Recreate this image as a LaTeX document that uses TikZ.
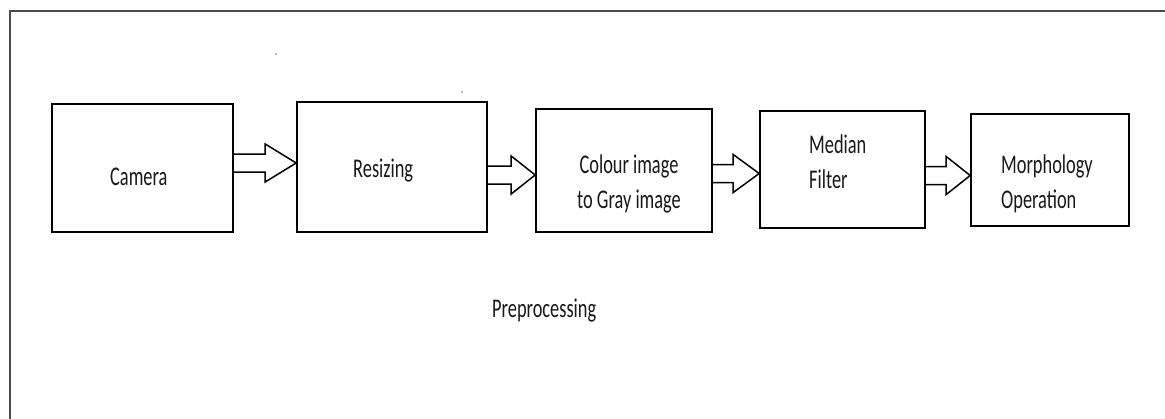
\documentclass[tikz,border=0pt]{standalone}
\usepackage{fontspec}
\setmainfont{Carlito}[FakeStretch=0.68]
\usetikzlibrary{calc}
\tikzset{
  box/.style={draw=black, line width=1.6pt, rectangle, inner sep=0pt},
  lbl/.style={anchor=base west, inner sep=0pt, align=left, text=black!90,
    font=\fontsize{27}{35}\selectfont},
  arr/.style={draw=black, line width=1.5pt, line join=miter},
  frame/.style={draw=black!70, line width=2pt}
}
\newcommand{\harrow}[4]{%
  \draw[arr] let \p1=(#1.east), \p2=(#2.west) in
    (\x1,{#3+9}) -- ({\x2-#4},{#3+9}) -- ({\x2-#4},{#3+19}) -- (\x2,#3)
    -- ({\x2-#4},{#3-19}) -- ({\x2-#4},{#3-9}) -- (\x1,{#3-9});}
\begin{document}
\begin{tikzpicture}[x=1pt,y=1pt]
\useasboundingbox (0,0) rectangle (1165,-418);
\fill[white] (0,0) rectangle (1165,-418);
% outer frame (right and bottom sides lie outside the picture)
\coordinate (ftl) at (10,-11);
\coordinate (ftr) at (1170,-11);
\coordinate (fbl) at (10,-425);
\draw[frame] (fbl) -- (ftl) -- (ftr);
% boxes
\node[box, minimum width=181pt, minimum height=128pt] (cam) at (142.5,-168) {};
\node[box, minimum width=190pt, minimum height=130pt] (res) at (392,-167) {};
\node[box, minimum width=176pt, minimum height=123pt] (col) at (624,-170.5) {};
\node[box, minimum width=165pt, minimum height=117pt] (med) at (842.5,-169.5) {};
\node[box, minimum width=158pt, minimum height=112pt] (mor) at (1050,-170) {};
% texts (base anchor of a two-line node is the baseline of its last line)
\node[lbl] (camt) at (110,-185) {Camera};
\node[lbl] (rest) at (353,-177) {Resizing};
\node[lbl, align=center] (colt) at (577,-208) {Colour image\\to Gray image};
\node[lbl] (medt) at (809,-188) {Median\\Filter};
\node[lbl] (mort) at (1001,-208) {Morphology\\Operation};
\node[lbl] (pre) at (492,-317) {Preprocessing};
% arrows
\harrow{cam}{res}{-163}{31}
\harrow{res}{col}{-175}{24}
\harrow{col}{med}{-173.5}{26}
\harrow{med}{mor}{-175.5}{24}
% stray dots
\fill[black!60] (276,-54) circle (0.9);
\fill[black!60] (462,-92) circle (0.9);
\end{tikzpicture}
\end{document}
